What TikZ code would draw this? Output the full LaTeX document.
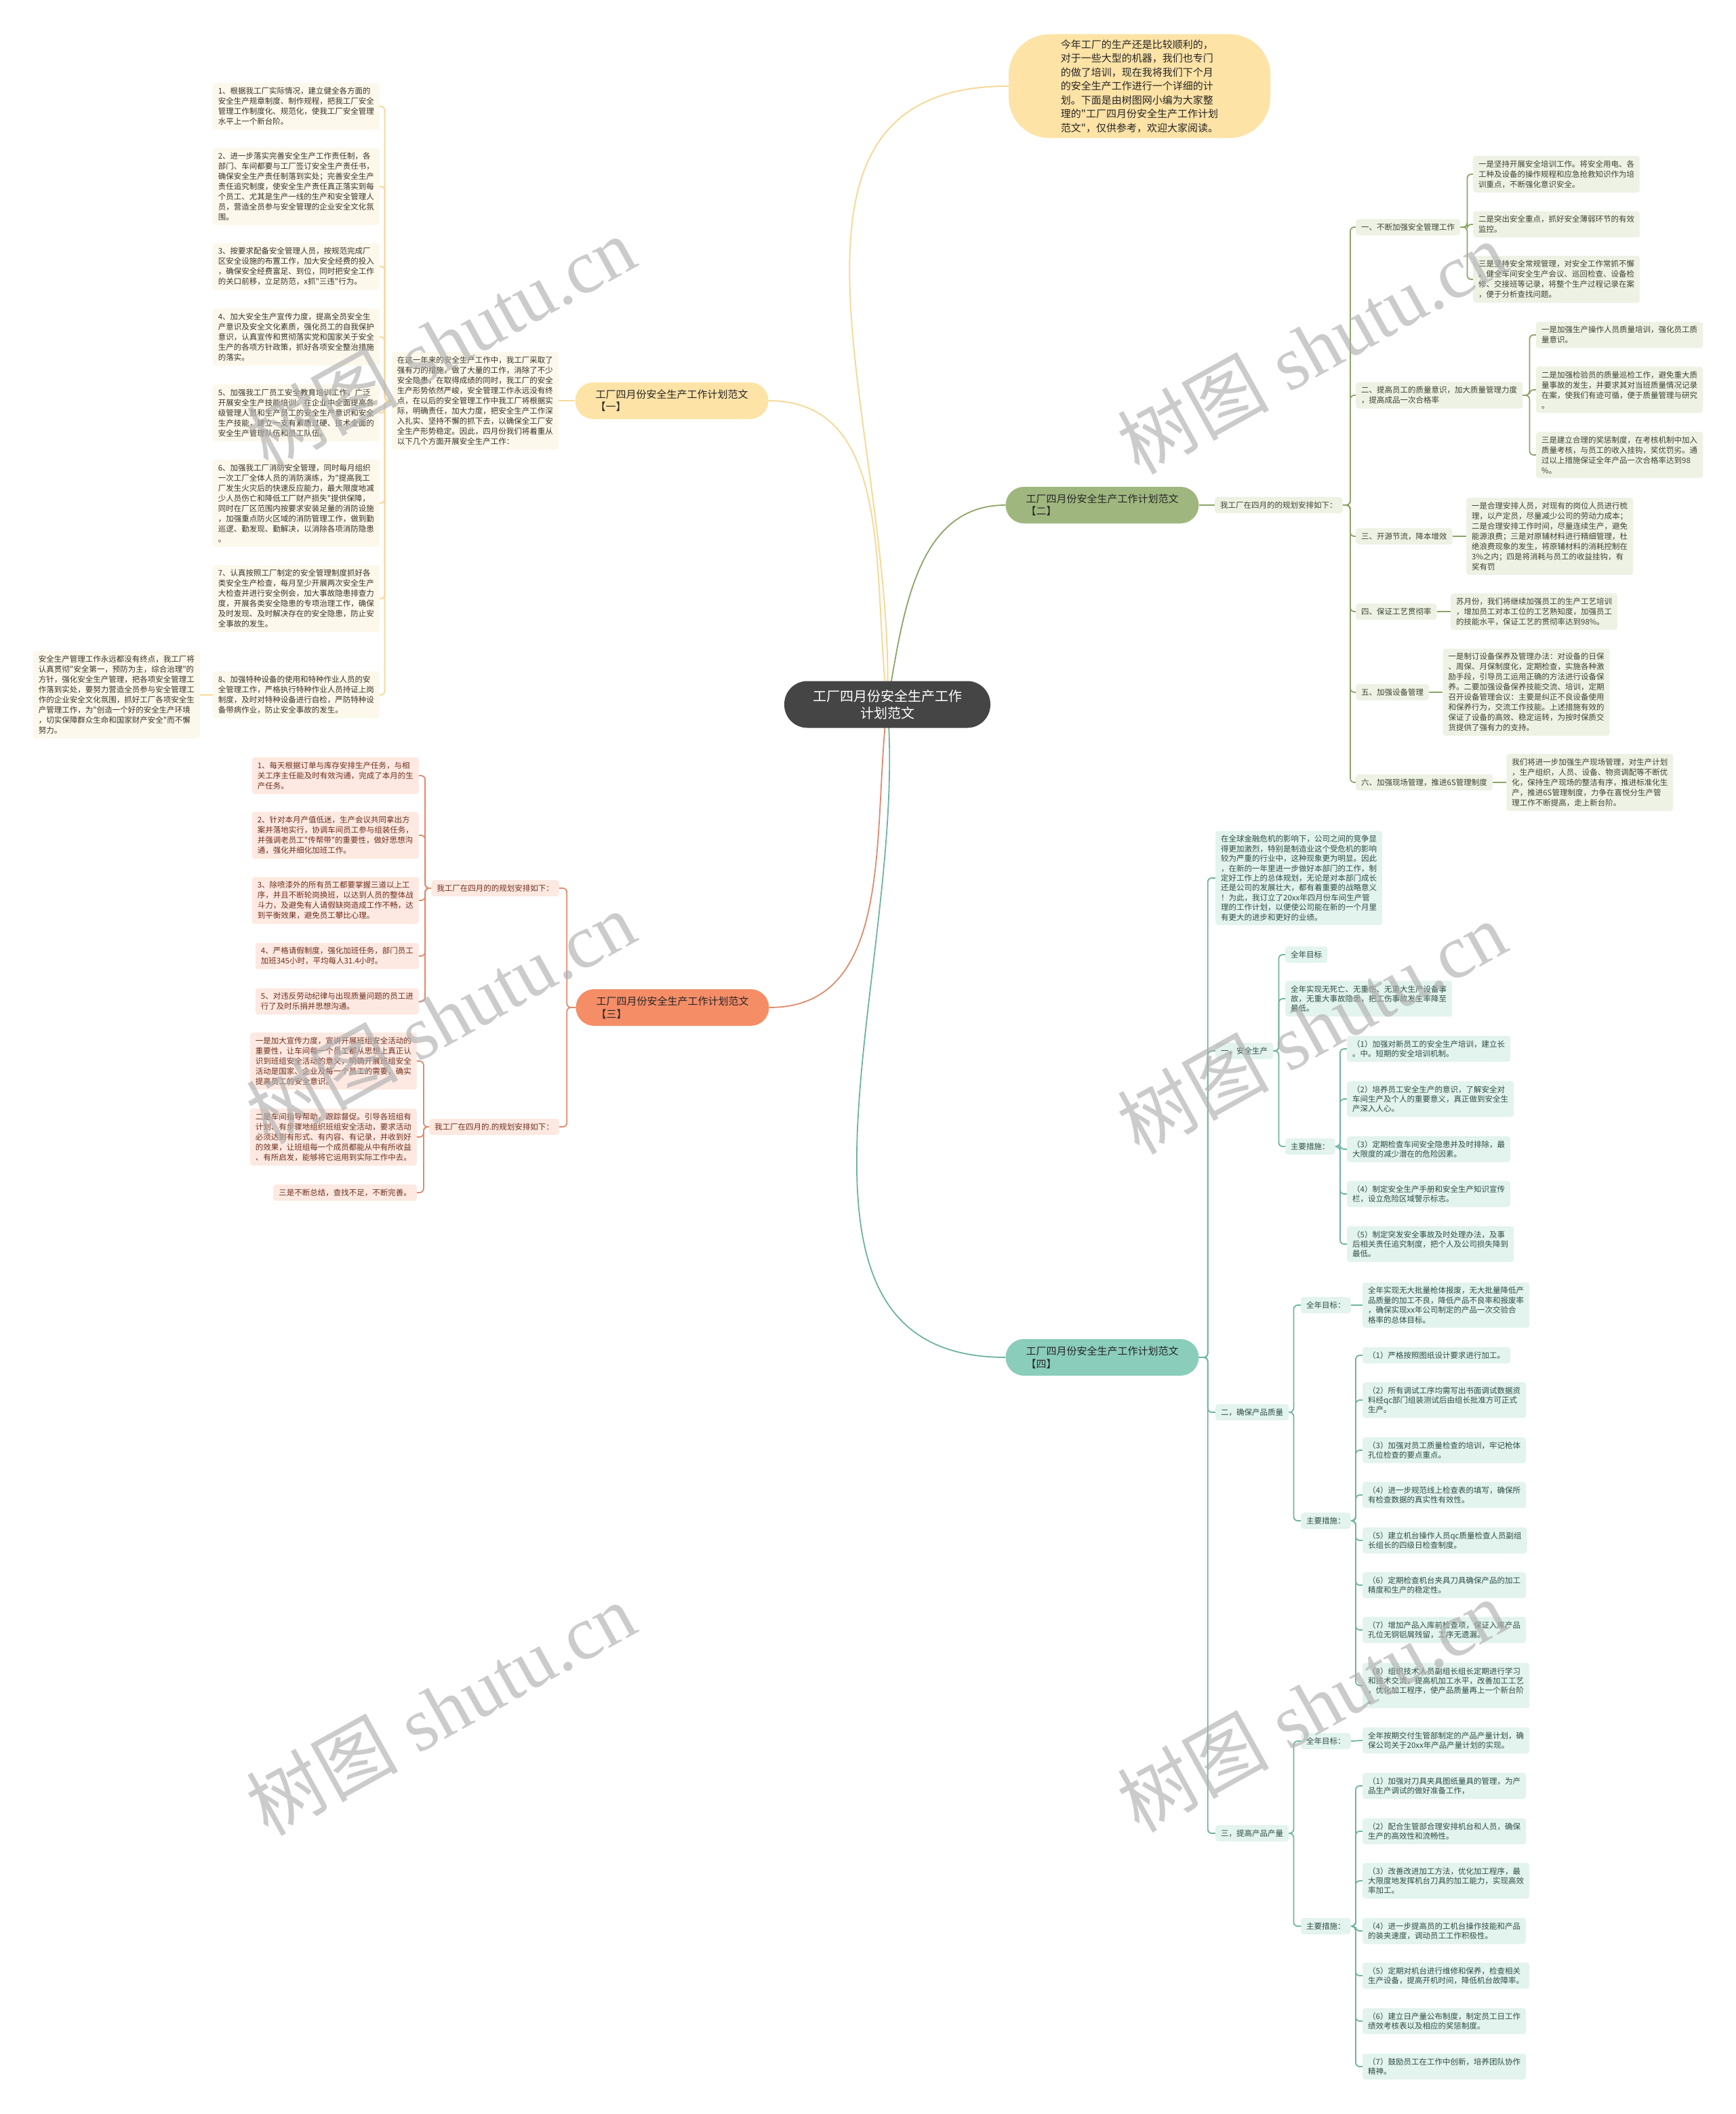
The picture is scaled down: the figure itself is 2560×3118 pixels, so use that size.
\documentclass[tikz,border=0pt]{standalone}
\usepackage{fontspec}
\newfontfamily\cjk{Noto Sans CJK SC}
\newfontfamily\wmfont{Liberation Serif}
\usetikzlibrary{positioning,backgrounds}

\definecolor{rootfill}{HTML}{454545}
\definecolor{peachfill}{HTML}{FDE3A6}
\definecolor{peachline}{HTML}{F6DA9A}
\definecolor{peachleaf}{HTML}{FDF8EC}
\definecolor{olivefill}{HTML}{9FB77E}
\definecolor{oliveline}{HTML}{8CA466}
\definecolor{oliveleaf}{HTML}{EEF2E5}
\definecolor{salmonfill}{HTML}{F58D67}
\definecolor{salmonline}{HTML}{E08A6C}
\definecolor{salmonleaf}{HTML}{FDE9E1}
\definecolor{tealfill}{HTML}{8ACDBB}
\definecolor{tealline}{HTML}{6DB3A0}
\definecolor{tealleaf}{HTML}{E3F3EE}
\definecolor{textA}{HTML}{3A3328}
\definecolor{textB}{HTML}{3C4430}
\definecolor{textC}{HTML}{6E2E1E}
\definecolor{textD}{HTML}{2E4E46}
\definecolor{wmgray}{HTML}{B0B0B0}

\begin{document}
\begin{tikzpicture}[
    x=1pt, y=-1pt,
    base/.style={font=\cjk\fontsize{11.5}{15}\selectfont, align=left, inner xsep=8pt, inner ysep=6.5pt, rounded corners=4pt},
    root/.style={fill=rootfill, text=white, font=\cjk\fontsize{20}{25}\selectfont, align=center, minimum width=304pt, minimum height=69pt, rounded corners=34pt},
    intro/.style={fill=peachfill, text=black!85, font=\cjk\fontsize{15}{20.5}\selectfont, align=left, minimum width=386pt, minimum height=153pt, rounded corners=60pt},
    topic/.style={text=black!85, font=\cjk\fontsize{15}{18.5}\selectfont, align=left, minimum width=285pt, minimum height=54pt, rounded corners=27pt},
    leafA/.style={base, fill=peachleaf, text=textA},
    leafB/.style={base, fill=oliveleaf, text=textB},
    leafC/.style={base, fill=salmonleaf, text=textC},
    leafD/.style={base, fill=tealleaf, text=textD, font=\cjk\fontsize{11.5}{14.4}\selectfont},
    linkA/.style={draw=peachline, line width=2pt, rounded corners=6pt},
    linkB/.style={draw=oliveline, line width=1.8pt, rounded corners=6pt},
    linkC/.style={draw=salmonline, line width=1.8pt, rounded corners=6pt},
    linkD/.style={draw=tealline, line width=1.8pt, rounded corners=6pt},
    watermark/.style={text=wmgray, opacity=0.65, inner sep=0pt, font=\wmfont\fontsize{112}{112}\selectfont},
]

% --- centre and the four topics ---
\node[root] (root) at (1309,1039) {工厂四月份安全生产工作\\计划范文};
\node[intro] (intro) at (1681,127) {今年工厂的生产还是比较顺利的，\\对于一些大型的机器，我们也专门\\的做了培训，现在我将我们下个月\\的安全生产工作进行一个详细的计\\划。下面是由树图网小编为大家整\\理的"工厂四月份安全生产工作计划\\范文"，仅供参考，欢迎大家阅读。};
\node[topic, fill=peachfill] (b1) at (991,591) {工厂四月份安全生产工作计划范文\\【一】};
\node[topic, fill=olivefill] (b2) at (1626,745) {工厂四月份安全生产工作计划范文\\【二】};
\node[topic, fill=salmonfill] (b3) at (992,1486) {工厂四月份安全生产工作计划范文\\【三】};
\node[topic, fill=tealfill] (b4) at (1626,2002) {工厂四月份安全生产工作计划范文\\【四】};

% --- topic 1 ---
\node[leafA, anchor=east] (p1) at (824,591) {在这一年来的安全生产工作中，我工厂采取了\\强有力的措施，做了大量的工作，消除了不少\\安全隐患，在取得成绩的同时，我工厂的安全\\生产形势依然严峻，安全管理工作永远没有终\\点，在以后的安全管理工作中我工厂将根据实\\际，明确责任，加大力度，把安全生产工作深\\入扎实、坚持不懈的抓下去，以确保全工厂安\\全生产形势稳定。因此，四月份我们将着重从\\以下几个方面开展安全生产工作：};
\node[leafA, anchor=east] (i1) at (560,157) {1、根据我工厂实际情况，建立健全各方面的\\安全生产规章制度、制作规程，把我工厂安全\\管理工作制度化、规范化，使我工厂安全管理\\水平上一个新台阶。};
\node[leafA, anchor=east] (i2) at (560,275) {2、进一步落实完善安全生产工作责任制，各\\部门、车间都要与工厂签订安全生产责任书，\\确保安全生产责任制落到实处；完善安全生产\\责任追究制度，使安全生产责任真正落实到每\\个员工、尤其是生产一线的生产和安全管理人\\员，营造全员参与安全管理的企业安全文化氛\\围。};
\node[leafA, anchor=east] (i3) at (560,393) {3、按要求配备安全管理人员，按规范完成厂\\区安全设施的布置工作，加大安全经费的投入\\，确保安全经费富足、到位，同时把安全工作\\的关口前移，立足防范，x抓"三违"行为。};
\node[leafA, anchor=east] (i4) at (560,497) {4、加大安全生产宣传力度，提高全员安全生\\产意识及安全文化素质，强化员工的自我保护\\意识，认真宣传和贯彻落实党和国家关于安全\\生产的各项方针政策，抓好各项安全整治措施\\的落实。};
\node[leafA, anchor=east] (i5) at (560,609) {5、加强我工厂员工安全教育培训工作，广泛\\开展安全生产技能培训，在企业中全面提高各\\级管理人员和生产员工的安全生产意识和安全\\生产技能，建立一支有素质过硬、技术全面的\\安全生产管理队伍和员工队伍。};
\node[leafA, anchor=east] (i6) at (560,742) {6、加强我工厂消防安全管理，同时每月组织\\一次工厂全体人员的消防演练，为"提高我工\\厂发生火灾后的快速反应能力，最大限度地减\\少人员伤亡和降低工厂财产损失"提供保障，\\同时在厂区范围内按要求安装足量的消防设施\\，加强重点防火区域的消防管理工作，做到勤\\巡逻、勤发现、勤解决，以消除各项消防隐患\\。};
\node[leafA, anchor=east] (i7) at (560,883) {7、认真按照工厂制定的安全管理制度抓好各\\类安全生产检查，每月至少开展两次安全生产\\大检查并进行安全例会，加大事故隐患排查力\\度，开展各类安全隐患的专项治理工作，确保\\及时发现、及时解决存在的安全隐患，防止安\\全事故的发生。};
\node[leafA, anchor=east] (i8) at (560,1025) {8、加强特种设备的使用和特种作业人员的安\\全管理工作，严格执行特种作业人员持证上岗\\制度，及时对特种设备进行自检，严防特种设\\备带病作业，防止安全事故的发生。};
\node[leafA, anchor=east] (sum1) at (295,1025) {安全生产管理工作永远都没有终点，我工厂将\\认真贯彻"安全第一，预防为主，综合治理"的\\方针，强化安全生产管理，把各项安全管理工\\作落到实处，要努力营造全员参与安全管理工\\作的企业安全文化氛围，抓好工厂各项安全生\\产管理工作，为"创造一个好的安全生产环境\\，切实保障群众生命和国家财产安全"而不懈\\努力。};

% --- topic 2 ---
\node[leafB, anchor=west] (plan2) at (1792,745) {我工厂在四月的的规划安排如下：};
\node[leafB, anchor=west] (s21) at (2000,335) {一、不断加强安全管理工作};
\node[leafB, anchor=west] (s22) at (2000,583) {二、提高员工的质量意识，加大质量管理力度\\，提高成品一次合格率};
\node[leafB, anchor=west] (s23) at (2000,791) {三、开源节流，降本增效};
\node[leafB, anchor=west] (s24) at (2000,902) {四、保证工艺贯彻率};
\node[leafB, anchor=west] (s25) at (2000,1021) {五、加强设备管理};
\node[leafB, anchor=west] (s26) at (2000,1154) {六、加强现场管理，推进6S管理制度};
\node[leafB, anchor=west] (l211) at (2173,257) {一是坚持开展安全培训工作。将安全用电、各\\工种及设备的操作规程和应急抢救知识作为培\\训重点，不断强化意识安全。};
\node[leafB, anchor=west] (l212) at (2173,331) {二是突出安全重点，抓好安全薄弱环节的有效\\监控。};
\node[leafB, anchor=west] (l213) at (2173,412) {三是坚持安全常规管理，对安全工作常抓不懈\\。健全车间安全生产会议、巡回检查、设备检\\修、交接班等记录，将整个生产过程记录在案\\，便于分析查找问题。};
\node[leafB, anchor=west] (l221) at (2266,494) {一是加强生产操作人员质量培训，强化员工质\\量意识。};
\node[leafB, anchor=west] (l222) at (2266,575) {二是加强检验员的质量巡检工作，避免重大质\\量事故的发生，并要求其对当班质量情况记录\\在案，使我们有迹可循，便于质量管理与研究\\。};
\node[leafB, anchor=west] (l223) at (2266,671) {三是建立合理的奖惩制度，在考核机制中加入\\质量考核，与员工的收入挂钩，奖优罚劣。通\\过以上措施保证全年产品一次合格率达到98\\\%。};
\node[leafB, right=20pt of s23] (l23) {一是合理安排人员，对现有的岗位人员进行梳\\理，以产定员，尽量减少公司的劳动力成本；\\二是合理安排工作时间，尽量连续生产，避免\\能源浪费；三是对原辅材料进行精细管理，杜\\绝浪费现象的发生，将原辅材料的消耗控制在\\3\%之内；四是将消耗与员工的收益挂钩，有\\奖有罚};
\node[leafB, right=20pt of s24] (l24) {苏月份，我们将继续加强员工的生产工艺培训\\，增加员工对本工位的工艺熟知度，加强员工\\的技能水平，保证工艺的贯彻率达到98\%。};
\node[leafB, right=20pt of s25] (l25) {一是制订设备保养及管理办法：对设备的日保\\、周保、月保制度化，定期检查，实施各种激\\励手段，引导员工运用正确的方法进行设备保\\养。二要加强设备保养技能交流、培训，定期\\召开设备管理会议：主要是纠正不良设备使用\\和保养行为，交流工作技能。上述措施有效的\\保证了设备的高效、稳定运转，为按时保质交\\货提供了强有力的支持。};
\node[leafB, right=20pt of s26] (l26) {我们将进一步加强生产现场管理，对生产计划\\，生产组织，人员、设备、物资调配等不断优\\化，保持生产现场的整洁有序，推进标准化生\\产，推进6S管理制度，力争在喜悦分生产管\\理工作不断提高，走上新台阶。};

% --- topic 3 ---
\node[leafC, anchor=east] (plan3a) at (825,1310) {我工厂在四月的的规划安排如下：};
\node[leafC, anchor=east] (plan3b) at (825,1662) {我工厂在四月的.的规划安排如下：};
\node[leafC, anchor=east] (c1) at (618,1144) {1、每天根据订单与库存安排生产任务，与相\\关工序主任能及时有效沟通，完成了本月的生\\产任务。};
\node[leafC, anchor=east] (c2) at (618,1232) {2、针对本月产值低迷，生产会议共同拿出方\\案并落地实行，协调车间员工参与组装任务，\\并强调老员工"传帮带"的重要性，做好思想沟\\通，强化并细化加班工作。};
\node[leafC, anchor=east] (c3) at (618,1328) {3、除喷漆外的所有员工都要掌握三道以上工\\序，并且不断轮岗换班，以达到人员的整体战\\斗力，及避免有人请假缺岗造成工作不畅，达\\到平衡效果，避免员工攀比心理。};
\node[leafC, anchor=east] (c4) at (618,1410) {4、严格请假制度，强化加班任务，部门员工\\加班345小时，平均每人31.4小时。};
\node[leafC, anchor=east] (c5) at (618,1477) {5、对违反劳动纪律与出现质量问题的员工进\\行了及时乐捐并思想沟通。};
\node[leafC, anchor=east] (d1) at (615,1565) {一是加大宣传力度，宣讲开展班组安全活动的\\重要性，让车间每一个员工都从思想上真正认\\识到班组安全活动的意义，明确开展班组安全\\活动是国家、企业及每一个员工的需要，确实\\提高员工的安全意识。};
\node[leafC, anchor=east] (d2) at (615,1677) {二是车间指导帮助，跟踪督促。引导各班组有\\计划、有步骤地组织班组安全活动，要求活动\\必须达到有形式、有内容、有记录，并收到好\\的效果，让班组每一个成员都能从中有所收益\\、有所启发，能够将它运用到实际工作中去。};
\node[leafC, anchor=east] (d3) at (615,1759) {三是不断总结，查找不足，不断完善。};

% --- topic 4 ---
\node[leafD, anchor=west] (p4) at (1793,1295) {在全球金融危机的影响下，公司之间的竞争显\\得更加激烈，特别是制造业这个受危机的影响\\较为严重的行业中，这种现象更为明显。因此\\，在新的一年里进一步做好本部门的工作，制\\定好工作上的总体规划，无论是对本部门成长\\还是公司的发展壮大，都有着重要的战略意义\\！为此，我订立了20xx年四月份车间生产管\\理的工作计划，以便使公司能在新的一个月里\\有更大的进步和更好的业绩。};
\node[leafD, anchor=west] (s41) at (1793,1550) {一，安全生产};
\node[leafD, anchor=west] (g41) at (1896,1408) {全年目标};
\node[leafD, anchor=west] (g41t) at (1896,1473) {全年实现无死亡、无重伤、无重大生产设备事\\故，无重大事故隐患，把工伤事故发生率降至\\最低。};
\node[leafD, anchor=west] (m41) at (1896,1691) {主要措施：};
\node[leafD, anchor=west] (m1) at (1987,1547) {（1）加强对新员工的安全生产培训，建立长\\。中。短期的安全培训机制。};
\node[leafD, anchor=west] (m2) at (1987,1621) {（2）培养员工安全生产的意识，了解安全对\\车间生产及个人的重要意义，真正做到安全生\\产深入人心。};
\node[leafD, anchor=west] (m3) at (1987,1695) {（3）定期检查车间安全隐患并及时排除，最\\大限度的减少潜在的危险因素。};
\node[leafD, anchor=west] (m4) at (1987,1761) {（4）制定安全生产手册和安全生产知识宣传\\栏，设立危险区域警示标志。};
\node[leafD, anchor=west] (m5) at (1987,1835) {（5）制定突发安全事故及时处理办法，及事\\后相关责任追究制度，把个人及公司损失降到\\最低。};
\node[leafD, anchor=west] (s42) at (1793,2083) {二，确保产品质量};
\node[leafD, anchor=west] (g42) at (1919,1925) {全年目标：};
\node[leafD, anchor=west] (g42t) at (2010,1925) {全年实现无大批量枪体报废，无大批量降低产\\品质量的加工不良，降低产品不良率和报废率\\，确保实现xx年公司制定的产品一次交验合\\格率的总体目标。};
\node[leafD, anchor=west] (m42) at (1919,2243) {主要措施：};
\node[leafD, anchor=west] (n1) at (2010,1999) {（1）严格按照图纸设计要求进行加工。};
\node[leafD, anchor=west] (n2) at (2010,2065) {（2）所有调试工序均需写出书面调试数据资\\料经qc部门组装测试后由组长批准方可正式\\生产。};
\node[leafD, anchor=west] (n3) at (2010,2139) {（3）加强对员工质量检查的培训，牢记枪体\\孔位检查的要点重点。};
\node[leafD, anchor=west] (n4) at (2010,2205) {（4）进一步规范线上检查表的填写，确保所\\有检查数据的真实性有效性。};
\node[leafD, anchor=west] (n5) at (2010,2272) {（5）建立机台操作人员qc质量检查人员副组\\长组长的四级日检查制度。};
\node[leafD, anchor=west] (n6) at (2010,2338) {（6）定期检查机台夹具刀具确保产品的加工\\精度和生产的稳定性。};
\node[leafD, anchor=west] (n7) at (2010,2404) {（7）增加产品入库前检查项，保证入库产品\\孔位无铜铝屑残留，工序无遗漏。};
\node[leafD, anchor=west] (n8) at (2010,2486) {（8）组织技术人员副组长组长定期进行学习\\和技术交流，提高机加工水平，改善加工工艺\\，优化加工程序，使产品质量再上一个新台阶\\。};
\node[leafD, anchor=west] (s43) at (1793,2704) {三，提高产品产量};
\node[leafD, anchor=west] (g43) at (1919,2568) {全年目标：};
\node[leafD, anchor=west] (g43t) at (2010,2567) {全年按期交付生管部制定的产品产量计划，确\\保公司关于20xx年产品产量计划的实现。};
\node[leafD, anchor=west] (m43) at (1919,2841) {主要措施：};
\node[leafD, anchor=west] (q1) at (2010,2634) {（1）加强对刀具夹具图纸量具的管理，为产\\品生产调试的做好准备工作，};
\node[leafD, anchor=west] (q2) at (2010,2701) {（2）配合生管部合理安排机台和人员，确保\\生产的高效性和流畅性。};
\node[leafD, anchor=west] (q3) at (2010,2774) {（3）改善改进加工方法，优化加工程序，最\\大限度地发挥机台刀具的加工能力，实现高效\\率加工。};
\node[leafD, anchor=west] (q4) at (2010,2848) {（4）进一步提高员的工机台操作技能和产品\\的装夹速度，调动员工工作积极性。};
\node[leafD, anchor=west] (q5) at (2010,2914) {（5）定期对机台进行维修和保养，检查相关\\生产设备，提高开机时间，降低机台故障率。};
\node[leafD, anchor=west] (q6) at (2010,2981) {（6）建立日产量公布制度，制定员工日工作\\绩效考核表以及相应的奖惩制度。};
\node[leafD, anchor=west] (q7) at (2010,3048) {（7）鼓励员工在工作中创新，培养团队协作\\精神。};

% --- connectors, behind the boxes ---
\begin{scope}[on background layer]
\fill[white] (0,0) rectangle (2560,3118);
% centre to topics
\draw[linkA] (root.center) to[out=88,in=180,looseness=1.1] (intro.west);
\draw[linkA] (root.center) to[out=97,in=0] (b1.east);
\draw[linkB] (root.center) to[out=80,in=180] (b2.west);
\draw[linkC] (root.center) to[out=-97,in=0] (b3.east);
\draw[linkD] (root.center) to[out=-85,in=180] (b4.west);

% topic 1
\draw[linkA] (b1.west) -- (p1.east);
\foreach \n in {i1,i2,i3,i4,i5,i6,i7,i8}
    \draw[linkA] (p1.west) -- ++(-10,0) |- (\n.east);
\draw[linkA] (i8.west) -- (sum1.east);

% topic 2
\draw[linkB] (b2.east) -- (plan2.west);
\foreach \n in {s21,s22,s23,s24,s25,s26}
    \draw[linkB] (plan2.east) -- ++(11,0) |- (\n.west);
\foreach \n in {l211,l212,l213}
    \draw[linkB] (s21.east) -- ++(10,0) |- (\n.west);
\foreach \n in {l221,l222,l223}
    \draw[linkB] (s22.east) -- ++(10,0) |- (\n.west);
\draw[linkB] (s23.east) -- (l23.west);
\draw[linkB] (s24.east) -- (l24.west);
\draw[linkB] (s25.east) -- (l25.west);
\draw[linkB] (s26.east) -- (l26.west);

% topic 3
\draw[linkC] (b3.west) -- ++(-13,0) |- (plan3a.east);
\draw[linkC] (b3.west) -- ++(-13,0) |- (plan3b.east);
\foreach \n in {c1,c2,c3,c4,c5}
    \draw[linkC] (plan3a.west) -- ++(-9,0) |- (\n.east);
\foreach \n in {d1,d2,d3}
    \draw[linkC] (plan3b.west) -- ++(-8,0) |- (\n.east);

% topic 4
\foreach \n in {p4,s41,s42,s43}
    \draw[linkD] (b4.east) -- ++(13,0) |- (\n.west);
\foreach \n in {g41,g41t,m41}
    \draw[linkD] (s41.east) -- ++(8,0) |- (\n.west);
\foreach \n in {m1,m2,m3,m4,m5}
    \draw[linkD] (m41.east) -- ++(7,0) |- (\n.west);
\foreach \n in {g42,m42}
    \draw[linkD] (s42.east) -- ++(7,0) |- (\n.west);
\draw[linkD] (g42.east) -- (g42t.west);
\foreach \n in {n1,n2,n3,n4,n5,n6,n7,n8}
    \draw[linkD] (m42.east) -- ++(7,0) |- (\n.west);
\foreach \n in {g43,m43}
    \draw[linkD] (s43.east) -- ++(7,0) |- (\n.west);
\draw[linkD] (g43.east) -- (g43t.west);
\foreach \n in {q1,q2,q3,q4,q5,q6,q7}
    \draw[linkD] (m43.east) -- ++(7,0) |- (\n.west);
\end{scope}

% --- watermark ---
\foreach \wx/\wy [count=\k] in {650/505, 1935/512, 650/1500, 1935/1515, 650/2520, 1935/2515}
    \node[watermark, rotate=29] (wm\k) at (\wx,\wy) {{\cjk 树图} shutu.cn};

\useasboundingbox (0,0) rectangle (2560,3118);
\end{tikzpicture}
\end{document}
